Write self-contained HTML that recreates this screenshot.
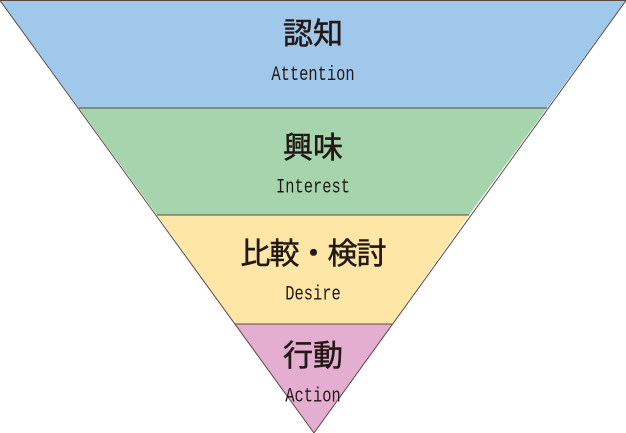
<!DOCTYPE html>
<html><head><meta charset="utf-8"><style>
html,body{margin:0;padding:0;background:#fff;width:626px;height:433px;overflow:hidden}
svg{display:block}
.t{font-family:"Liberation Sans","Noto Sans CJK JP",sans-serif;font-size:30px;fill:#231815;stroke:#231815;stroke-width:0.5;text-anchor:middle}
.s{font-family:"Liberation Mono",monospace;font-size:15.4px;fill:#231815;text-anchor:middle}
</style></head><body>
<svg width="626" height="433" viewBox="0 0 626 433">
<polygon points="0,0 626,0 547,108 79,108" fill="#a0c8ea"/>
<polygon points="79,108 547,108 469,215 157,215" fill="#a6d5ad"/>
<polygon points="157,215 469,215 392,324 235,324" fill="#fde6a6"/>
<polygon points="235,324 392,324 314,433" fill="#e3aecf"/>
<g stroke="#5a4a44" stroke-width="1" fill="none">
<polygon points="0,0.5 626,0.5 314,433"/>
<line x1="79" y1="108" x2="547" y2="108"/>
<line x1="157" y1="215" x2="469" y2="215"/>
<line x1="235" y1="324" x2="392" y2="324"/>
</g>
<text class="t" x="313" y="44">認知</text>
<text class="t" x="313" y="158">興味</text>
<text class="t" x="313" y="264" letter-spacing="-1">比較・検討</text>
<text class="t" x="313" y="366">行動</text>
<g transform="scale(1,1.3)">
<text class="s" x="313" y="61.5">Attention</text>
<text class="s" x="313" y="148">Interest</text>
<text class="s" x="313" y="230.5">Desire</text>
<text class="s" x="313" y="309">Action</text>
</g>
</svg>
</body></html>
